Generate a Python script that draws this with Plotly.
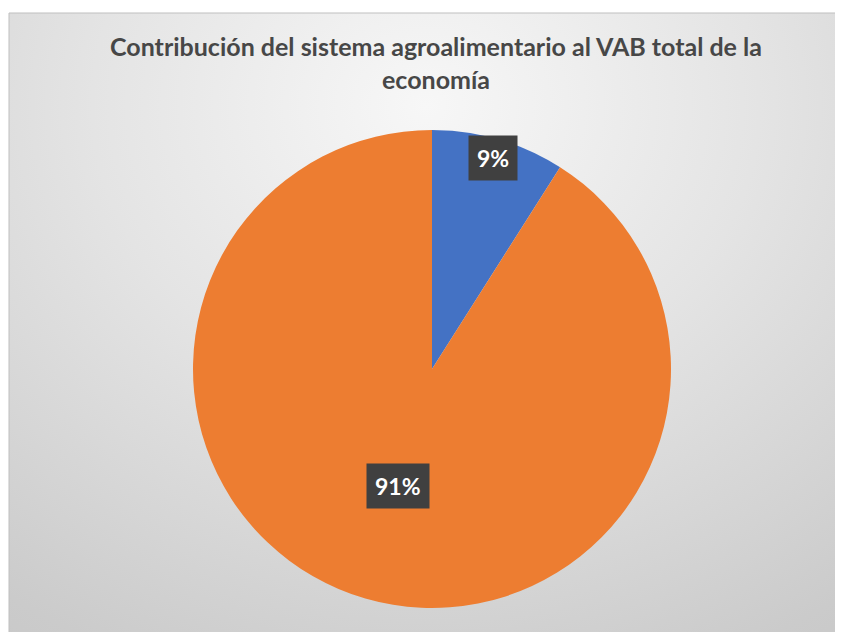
import math
import plotly.graph_objects as go

# Data
categories = ["Sistema agroalimentario", "Resto de la economía"]
values = [9, 91]
colors = ["#4472C4", "#ED7D31"]
title_text = "Contribución del sistema agroalimentario al VAB total de la<br>economía"

# The page body has an 8px margin; figure coords = screen coords - 8
OFF = 8
W, H = 843 - OFF, 632 - OFF
ML, MT = 9 - OFF, 13 - OFF
PW, PH = W - ML, H - MT

# Pie geometry (screen pixels) -> domain
cx_px, cy_px, r_px = 432 - OFF, 369 - OFF, 239
dom_x = [(cx_px - r_px - ML) / PW, (cx_px + r_px - ML) / PW]
dom_y = [(H - (cy_px + r_px)) / PH, (H - (cy_px - r_px)) / PH]

fig = go.Figure()

# Background gradient
fig.add_trace(go.Scatter(
    x=[-0.5, 1.5, 1.5, -0.5, -0.5], y=[-0.3, -0.3, 2.0, 2.0, -0.3],
    mode="lines", line=dict(width=0), fill="toself",
    fillgradient=dict(type="radial",
                      colorscale=[[0, "#f7f7f7"], [0.4, "#e4e4e4"], [0.85, "#cbcbcb"], [1, "#c6c6c6"]]),
    hoverinfo="skip", showlegend=False,
))

fig.add_trace(go.Pie(
    labels=categories, values=values, sort=False, direction="clockwise", rotation=0,
    marker=dict(colors=colors, line=dict(width=0)),
    textinfo="none", hoverinfo="label+percent", showlegend=False,
    domain=dict(x=dom_x, y=dom_y),
))

# Data labels with dark boxes, placed at slice mid-angles
total = sum(values)
cxp = sum(dom_x) / 2
cyp = sum(dom_y) / 2
rx = (dom_x[1] - dom_x[0]) / 2
ry = (dom_y[1] - dom_y[0]) / 2
radial_frac = [0.92, 0.51]
cum = 0
for v, rf in zip(values, radial_frac):
    mid = (cum + v / 2) / total * 2 * math.pi
    cum += v
    x = cxp + rf * rx * math.sin(mid)
    y = cyp + rf * ry * math.cos(mid)
    fig.add_annotation(
        x=x, y=y, xref="paper", yref="paper", showarrow=False,
        xanchor="center", yanchor="middle",
        text="<b>%d%%</b>" % round(v / total * 100),
        font=dict(family="Lato, Open Sans, sans-serif", size=23, color="white"),
        bgcolor="#404040", borderpad=8,
    )

fig.update_layout(
    width=W, height=H,
    margin=dict(l=ML, r=0, t=MT, b=0, pad=0),
    paper_bgcolor="white", plot_bgcolor="rgba(0,0,0,0)",
    xaxis=dict(range=[0, 1], visible=False, fixedrange=True),
    yaxis=dict(range=[0, 1], visible=False, fixedrange=True),
    title=dict(text="<b>" + title_text + "</b>", x=(436 - OFF) / W, xref="container", xanchor="center",
               y=1 - (56 - OFF) / H, yref="container", yanchor="top",
               font=dict(family="Lato, Open Sans, sans-serif", size=25, color="#474747")),
    shapes=[dict(type="rect", xref="paper", yref="paper", x0=0, y0=-0.01, x1=1.01, y1=1,
                 line=dict(color="#bfbfbf", width=1), fillcolor="rgba(0,0,0,0)")],
)

fig.write_html("out.html")
